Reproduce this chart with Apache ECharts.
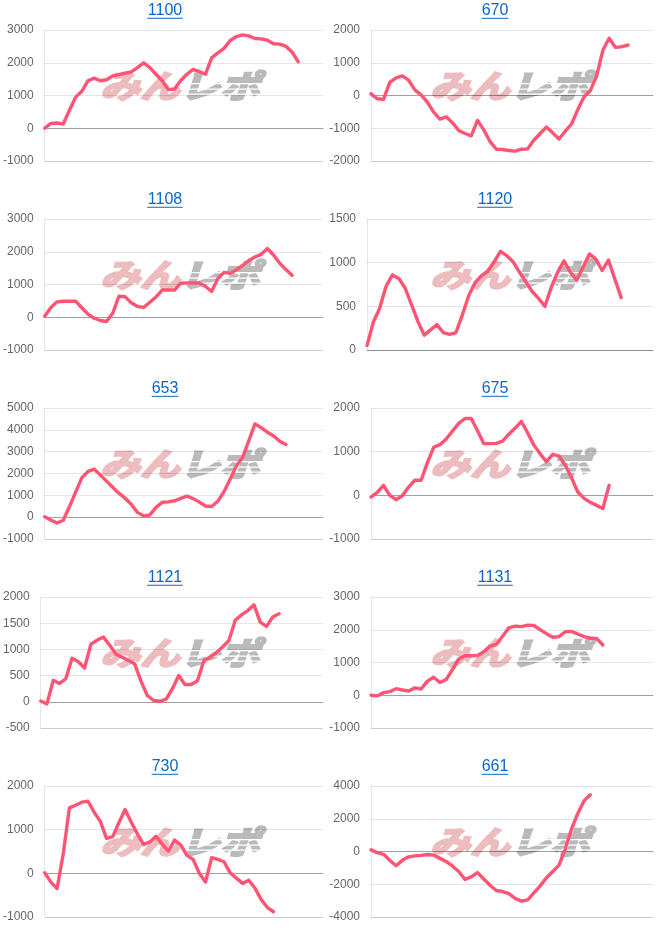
<!DOCTYPE html>
<html>
<head>
<meta charset="utf-8">
<script src="https://cdn.jsdelivr.net/npm/echarts@6/dist/echarts.min.js"></script>
<style>
html,body{margin:0;padding:0;background:#fff;}
#chart{width:660px;height:945px;}
</style>
</head>
<body>
<div id="chart"></div>
<script>
// x categories (sample index along the play session)
const steps = ['0','1','2','3','4','5','6','7','8','9','10','11','12','13','14','15','16','17','18','19','20','21','22','23','24','25','26','27','28','29','30','31','32','33','34','35','36','37','38','39','40','41','42','43','44','45'];

// machine titles
const machines = ['1100','670','1108','1120','653','675','1121','1131','730','661'];

// series values (差枚)
const m1100 = [0,150,160,130,550,950,1130,1450,1530,1450,1480,1600,1640,1680,1720,1850,2000,1850,1650,1450,1180,1200,1460,1650,1800,1730,1650,2150,2300,2440,2680,2800,2850,2820,2740,2730,2690,2580,2570,2500,2330,2030];
const m670 = [50,-100,-120,400,540,600,470,170,20,-200,-510,-720,-650,-830,-1070,-1160,-1230,-760,-1050,-1410,-1640,-1650,-1680,-1700,-1640,-1630,-1360,-1160,-960,-1140,-1330,-1090,-870,-430,-40,150,600,1380,1750,1470,1490,1540];
const m1108 = [30,300,470,490,490,490,290,95,-30,-100,-130,120,640,630,440,330,300,460,620,830,830,830,1040,1050,1050,1050,940,790,1180,1370,1340,1450,1580,1730,1840,1920,2100,1900,1650,1460,1280];
const m1120 = [50,320,480,730,860,820,710,520,330,170,230,290,200,180,200,400,620,770,850,900,1010,1130,1080,1010,890,780,670,590,500,720,890,1020,890,800,950,1100,1040,910,1030,810,600];
const m653 = [15,-130,-270,-140,475,1150,1800,2100,2200,1930,1650,1370,1100,870,590,220,60,100,450,680,700,750,860,970,850,690,510,490,730,1180,1750,2350,2730,3500,4270,4100,3890,3730,3480,3330];
const m675 = [-40,70,230,0,-100,-10,190,345,345,750,1100,1160,1290,1470,1650,1760,1760,1480,1185,1185,1190,1240,1400,1540,1690,1430,1150,950,770,940,900,690,400,75,-70,-160,-230,-300,230];
const m1121 = [15,-40,410,350,440,830,765,645,1100,1175,1235,1080,910,850,790,720,390,120,25,10,50,250,500,330,330,400,785,850,940,1045,1170,1550,1660,1740,1850,1520,1440,1620,1680];
const m1131 = [0,-20,80,110,200,160,130,225,190,430,550,390,480,780,1100,1205,1205,1215,1330,1500,1555,1800,2060,2110,2095,2140,2130,2000,1880,1770,1790,1940,1950,1870,1790,1740,1735,1535];
const m730 = [15,-200,-350,450,1500,1560,1630,1650,1400,1190,800,840,1160,1460,1170,900,660,720,850,670,510,760,650,410,320,0,-200,360,320,265,10,-110,-230,-160,-340,-600,-780,-880];
const m661 = [100,-70,-170,-530,-870,-540,-325,-270,-235,-185,-220,-420,-610,-880,-1220,-1700,-1550,-1290,-1680,-2060,-2380,-2445,-2570,-2860,-3030,-2950,-2530,-2100,-1600,-1220,-830,150,1380,2320,3100,3460];

// y-axis tick ranges
const yMin = [-1000,-2000,-1000,0,-1000,-1000,-500,-1000,-1000,-4000];
const yMax = [3000,2000,3000,1500,5000,2000,2000,3000,2000,4000];
const yStep = [1000,1000,1000,500,1000,1000,500,1000,1000,2000];

const seriesData = [m1100,m670,m1108,m1120,m653,m675,m1121,m1131,m730,m661];

// layout
const gridLeft = [41,41,41,37,41,41,37,41,41,41];
const GRID_RIGHT = 323, ROW_H = 189, COL_W = 330, GRID_TOP = 30, GRID_H = 131;
const LINE_COLOR = '#ff5473';
const FONT = '"Liberation Sans", Arial, Helvetica, sans-serif';
const WM_FONT = 'italic bold 32px "Noto Sans CJK JP"';

const grids = [], xAxes = [], yAxes = [], series = [], graphics = [];
const splitColors = ['rgba(0,0,0,0.2)'].concat(new Array(12).fill('rgba(0,0,0,0.1)'));

machines.forEach((name, i) => {
  const col = i % 2, row = Math.floor(i / 2);
  const ox = col * COL_W, oy = row * ROW_H;
  const left = ox + gridLeft[i];
  grids.push({left: left, top: oy + GRID_TOP, width: ox + GRID_RIGHT - left, height: GRID_H});
  xAxes.push({
    type: 'category', gridIndex: i, data: steps, boundaryGap: false,
    axisLabel: {show: false}, axisTick: {show: false}, splitLine: {show: false},
    axisLine: {show: true, onZero: true, lineStyle: {color: 'rgba(0,0,0,0.3)', width: 1}}
  });
  yAxes.push({
    type: 'value', gridIndex: i, min: yMin[i], max: yMax[i], interval: yStep[i],
    axisLine: {show: true, lineStyle: {color: 'rgba(0,0,0,0.1)'}},
    axisTick: {show: false},
    axisLabel: {color: '#666', fontSize: 12, fontFamily: FONT, margin: 11, formatter: v => String(v)},
    splitLine: {show: true, lineStyle: {color: splitColors, width: 1}}
  });
  series.push({
    type: 'line', xAxisIndex: i, yAxisIndex: i, data: seriesData[i],
    showSymbol: false, symbol: 'none', smooth: false, z: 5,
    lineStyle: {color: LINE_COLOR, width: 3.4, join: 'round', cap: 'round'},
    itemStyle: {color: LINE_COLOR}
  });
  // title (link style)
  const tw = name.length * 8.9;
  graphics.push({
    type: 'text', x: ox + 165, y: oy + 11, z: 10,
    style: {text: name, fill: '#0a67c9', font: '16px ' + FONT, textAlign: 'center', textVerticalAlign: 'middle'}
  });
  graphics.push({
    type: 'rect', shape: {x: ox + 165 - tw / 2, y: oy + 17.8, width: tw, height: 1}, z: 10,
    style: {fill: '#0a67c9'}
  });
  // watermark
  graphics.push({
    type: 'group', x: ox + 100, y: oy + 86, scaleX: 1.25, z: -10,
    children: [
      {type: 'text', x: 0, y: 0, z: -10, style: {text: 'みん', fill: '#ecbcbf', stroke: '#ecbcbf', lineWidth: 2.2, font: WM_FONT, textAlign: 'left', textVerticalAlign: 'middle'}},
      {type: 'text', x: 64, y: 0, z: -10, style: {text: 'レポ', fill: '#bababa', stroke: '#bababa', lineWidth: 2.2, font: WM_FONT, textAlign: 'left', textVerticalAlign: 'middle'}}
    ]
  });
  [83, 88.5, 93.5].forEach(sy => {
    graphics.push({
      type: 'rect', shape: {x: ox + 180, y: oy + sy, width: 88, height: 1.3}, z: -9,
      style: {fill: '#ffffff'}
    });
  });
});

const chart = echarts.init(document.getElementById('chart'), null, {renderer: 'canvas'});
chart.setOption({
  animation: false,
  backgroundColor: '#fff',
  grid: grids, xAxis: xAxes, yAxis: yAxes, series: series,
  graphic: graphics
});
</script>
</body>
</html>
